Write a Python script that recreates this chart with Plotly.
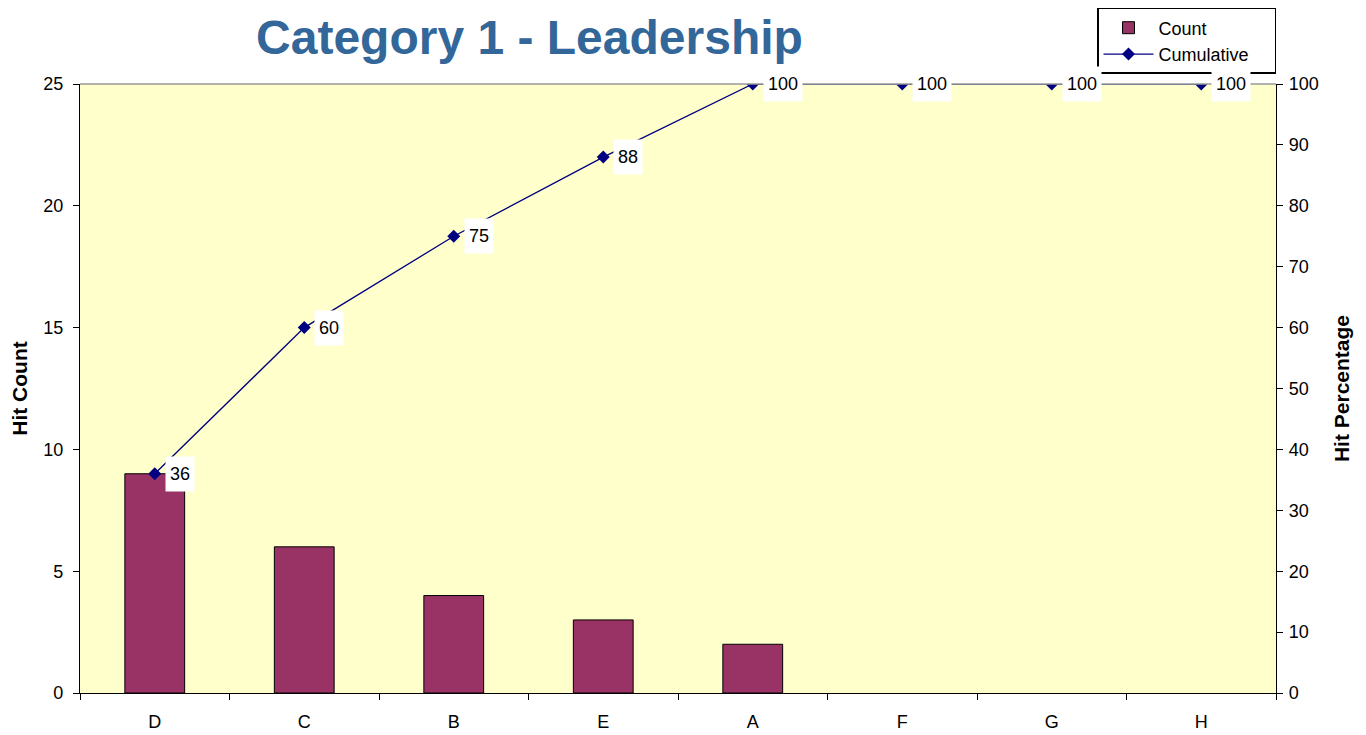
import plotly.graph_objects as go

# Pareto data
categories = ["D", "C", "B", "E", "A", "F", "G", "H"]
counts = [9, 6, 4, 3, 2, 0, 0, 0]
cumulative = [36, 60, 75, 88, 100, 100, 100, 100]

pad = "\u00a0" * 4  # a bit of room on the right of the legend text, like Excel

fig = go.Figure()

fig.add_trace(go.Bar(
    x=categories, y=counts, name="Count" + pad, width=0.4,
    marker=dict(color="#993366",
                line=dict(color="black", width=[1 if c > 0 else 0 for c in counts])),
))
fig.add_trace(go.Scatter(
    x=categories, y=cumulative, name="Cumulative" + pad, yaxis="y2",
    mode="lines+markers",
    line=dict(color="#000080", width=1.3),
    marker=dict(symbol="diamond", size=10, color="#000080"),
))

# data labels with white box, right of each marker
for c, v in zip(categories, cumulative):
    fig.add_annotation(
        x=c, y=v, yref="y2", text=str(v), showarrow=False,
        xanchor="left", xshift=10, height=26, borderpad=4,
        bgcolor="white",
        font=dict(family="Arial", size=18, color="black"),
    )

# grey top border of plot area
fig.add_shape(type="line", xref="paper", yref="paper", x0=0, x1=1, y0=1, y1=1,
              line=dict(color="#999999", width=1.5))

n = len(categories)
tick_common = dict(ticks="inside", ticklen=6, tickcolor="black", tickwidth=1.3,
                   showticklabels=False, showgrid=False, zeroline=False,
                   showline=False, automargin=False)

fig.update_layout(
    width=1358, height=727,
    margin=dict(l=72, r=90, t=76, b=42, autoexpand=False),
    paper_bgcolor="white", plot_bgcolor="#FFFFCC",
    font=dict(family="Arial", size=18, color="black"),
    title=dict(text="<b>Category 1 - Leadership</b>", x=0.384, xanchor="center",
               xref="container", y=1.0, yanchor="top", pad=dict(t=12),
               font=dict(family="Arial", size=48, color="#336699")),
    xaxis=dict(showline=True, linecolor="black", linewidth=1.3,
               ticks="outside", tickson="boundaries", ticklen=6, tickcolor="black",
               tickwidth=1.3, ticklabelstandoff=12, automargin=False,
               showgrid=False, zeroline=False),
    # extra axes only draw the inner half of the Excel-style crossing ticks
    xaxis2=dict(overlaying="x", range=[-0.5, n - 0.5],
                tickvals=[i - 0.5 for i in range(n + 1)], side="bottom", **tick_common),
    yaxis=dict(title=dict(text="<b>Hit Count</b>", font=dict(size=21), standoff=9),
               range=[0, 25], dtick=5, showline=True, linecolor="black", linewidth=1.3,
               ticks="outside", ticklen=6, tickcolor="black", tickwidth=1.3,
               ticklabelstandoff=6, automargin=False,
               showgrid=False, zeroline=False),
    yaxis2=dict(title=dict(text="<b>Hit Percentage</b>", font=dict(size=21), standoff=16),
                range=[0, 100], dtick=10, overlaying="y", side="right",
                showline=True, linecolor="black", linewidth=1.3,
                ticks="outside", ticklen=6, tickcolor="black", tickwidth=1.3,
                ticklabelstandoff=2, automargin=False,
                showgrid=False, zeroline=False),
    yaxis3=dict(overlaying="y", side="left", range=[0, 25], dtick=5, **tick_common),
    yaxis4=dict(overlaying="y", side="right", range=[0, 100], dtick=10, **tick_common),
    legend=dict(x=1.0, xanchor="right", y=1.1248, yanchor="top",
                bgcolor="white", bordercolor="black", borderwidth=1.5,
                font=dict(size=18), itemwidth=50, tracegroupgap=0),
    showlegend=True,
)

fig.write_html("out.html")
